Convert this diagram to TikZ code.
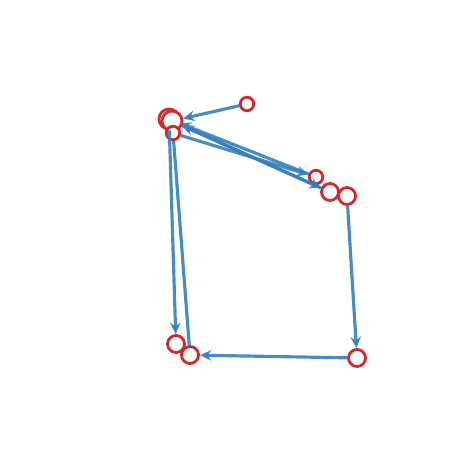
\documentclass[tikz,border=0pt]{standalone}
\usepackage{tikz}
\usetikzlibrary{positioning, arrows.meta}
\definecolor{nodeRed}{RGB}{214, 39, 40}
\definecolor{edgeBlue}{RGB}{52, 128, 190}
\tikzset{
  vtx/.style={circle, draw=nodeRed, fill=white, line width=1.6pt,
              inner sep=0pt, font=\tiny, text=white},
  vtxS/.style={vtx, minimum size=0.27cm},
  vtxM/.style={vtx, minimum size=0.34cm},
  vtxL/.style={vtx, minimum size=0.40cm},
  edge/.style={-{Stealth[length=6.5pt, width=6pt]}, line width=1.8pt,
               edgeBlue, opacity=0.9},
  edgeN/.style={line width=1.8pt, edgeBlue, opacity=0.9},
}

\begin{document}
\begin{tikzpicture}[x=0.02cm, y=-0.02cm]
    \useasboundingbox (0,0) rectangle (462,462);

    % Nodes
    \node[vtxS] (N1) at (247,104) {1};
    \node[vtxL] (N5) at (169,119) {5};
    \node[vtxL] (N4) at (172,121) {4};
    \node[vtxS] (N2) at (173,133) {2};
    \node[vtxS] (N6) at (316,177) {6};
    \node[vtxM] (N8) at (330,192) {8};
    \node[vtxM] (N10) at (347,196) {10};
    \node[vtxM] (N7) at (176,344) {7};
    \node[vtxM] (N9) at (190,355) {9};
    \node[vtxM] (N3) at (357,358) {3};

    % Connections
    \draw[edge] (N1) -- (N4);
    \draw[edge] (N2) -- (N6);
    \draw[edge] (N4) -- (N8);
    \draw[edge] (N6) -- (N5);
    \draw[edge] (N8) -- (N4);
    \draw[edge] (N5) -- (N7);
    \draw[edgeN] (N2) -- (N9);
    \draw[edge] (N10) -- (N3);
    \draw[edge] (N3) -- (N9);
\end{tikzpicture}
\end{document}
